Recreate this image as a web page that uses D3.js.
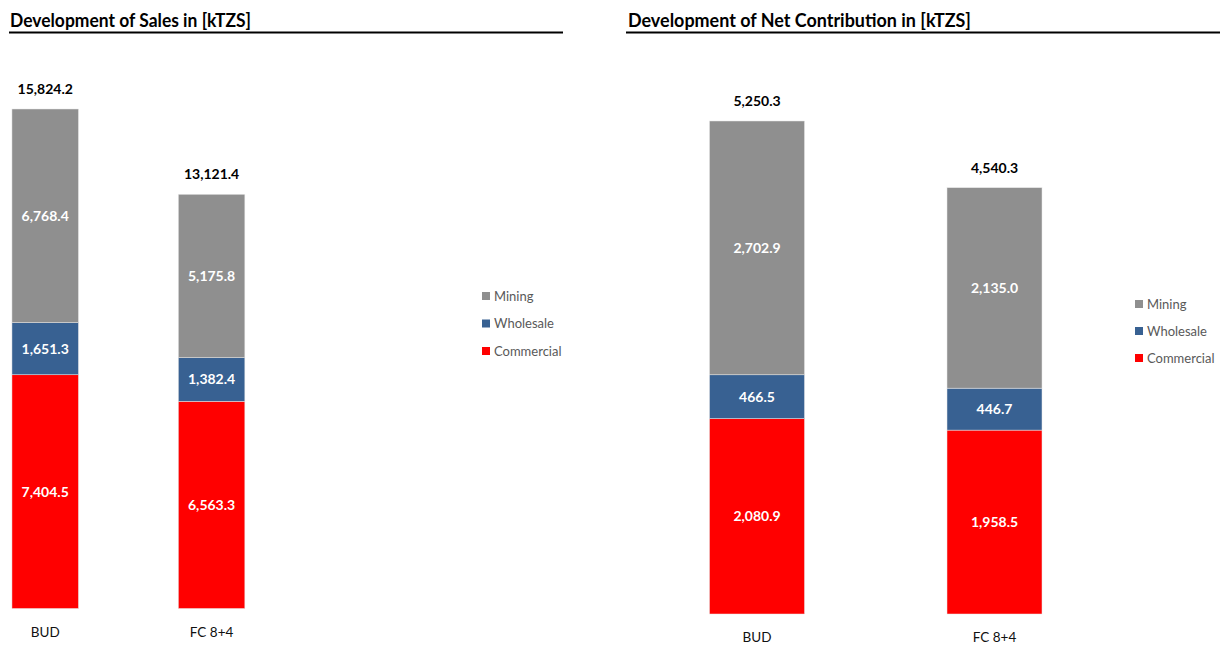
<!DOCTYPE html>
<meta charset="utf-8">
<script src="https://cdn.jsdelivr.net/npm/d3@7"></script>
<style>
body { margin: 0; background: #fff; }
text { font-family: Lato, "Open Sans", sans-serif; }
.title { font-weight: bold; font-size: 18px; fill: #000; }
.total { font-weight: bold; font-size: 14px; fill: #000; }
.seg { font-weight: bold; font-size: 14px; fill: #fff; }
.cat { font-size: 13.5px; fill: #111; }
.legend text { font-size: 13px; fill: #595959; }
</style>
<body>
<script>
var width = 1220, height = 646;

// data
var categories = ["BUD", "FC 8+4"];
var series = ["Commercial", "Wholesale", "Mining"];
var colors = ["#ff0000", "#386192", "#8f8f8f"];

var salesCommercial = [7404.5, 6563.3];
var salesWholesale = [1651.3, 1382.4];
var salesMining = [6768.4, 5175.8];
var salesTotals = [15824.2, 13121.4];

var ncCommercial = [2080.9, 1958.5];
var ncWholesale = [466.5, 446.7];
var ncMining = [2702.9, 2135.0];
var ncTotals = [5250.3, 4540.3];

var fmt = d3.format(",.1f");

var svg = d3.select("body").append("svg")
    .attr("width", width)
    .attr("height", height);

function buildRows(comm, whole, mine) {
  return categories.map(function(c, i) {
    return {cat: c, Commercial: comm[i], Wholesale: whole[i], Mining: mine[i]};
  });
}

function drawChart(opt) {
  var g = svg.append("g");

  g.append("text")
    .attr("class", "title")
    .attr("x", opt.titleX)
    .attr("y", 27)
    .attr("textLength", opt.titleW)
    .attr("lengthAdjust", "spacingAndGlyphs")
    .text(opt.title);

  g.append("line")
    .attr("x1", opt.lineX1).attr("x2", opt.lineX2)
    .attr("y1", 32.5).attr("y2", 32.5)
    .attr("stroke", "#000")
    .attr("stroke-width", 2);

  var x = d3.scalePoint().domain(categories).range(opt.xRange);
  var y = d3.scaleLinear().domain([0, d3.max(opt.totals)]).range(opt.yRange);

  var rows = buildRows(opt.comm, opt.whole, opt.mine);
  var stack = d3.stack().keys(series)(rows);

  var layer = g.selectAll("g.layer")
    .data(stack)
    .enter().append("g")
      .attr("class", "layer")
      .attr("fill", function(d, i) { return colors[i]; });

  layer.selectAll("rect")
    .data(function(d) { return d; })
    .enter().append("rect")
      .attr("x", function(d) { return x(d.data.cat) - opt.barW / 2; })
      .attr("width", opt.barW)
      .attr("y", function(d) { return y(d[1]); })
      .attr("height", function(d) { return y(d[0]) - y(d[1]); })
      .attr("stroke", "#e8e8e8")
      .attr("stroke-width", 0.5);

  layer.selectAll("text")
    .data(function(d) { return d; })
    .enter().append("text")
      .attr("class", "seg")
      .attr("text-anchor", "middle")
      .attr("dy", "0.35em")
      .attr("x", function(d) { return x(d.data.cat); })
      .attr("y", function(d) { return (y(d[0]) + y(d[1])) / 2; })
      .text(function(d) { return fmt(d[1] - d[0]); });

  g.selectAll("text.total")
    .data(categories)
    .enter().append("text")
      .attr("class", "total")
      .attr("text-anchor", "middle")
      .attr("x", function(d) { return x(d); })
      .attr("y", function(d, i) { return y(opt.totals[i]) - 15; })
      .text(function(d, i) { return fmt(opt.totals[i]); });

  g.selectAll("text.cat")
    .data(categories)
    .enter().append("text")
      .attr("class", "cat")
      .attr("text-anchor", "middle")
      .attr("x", function(d) { return x(d); })
      .attr("y", opt.yRange[0] + 28)
      .text(function(d) { return d; });

  var legend = g.append("g").attr("class", "legend");
  var legItems = series.slice().reverse();
  var ly = d3.scalePoint().domain(legItems).range(opt.legY);
  legItems.forEach(function(s) {
    legend.append("rect")
      .attr("x", opt.legX)
      .attr("y", ly(s) - 4)
      .attr("width", 8).attr("height", 8)
      .attr("fill", colors[series.indexOf(s)]);
    legend.append("text")
      .attr("x", opt.legX + 12)
      .attr("y", ly(s))
      .attr("dy", "0.35em")
      .text(s);
  });
}

drawChart({
  title: "Development of Sales in [kTZS]",
  titleX: 10, titleW: 241, lineX1: 9, lineX2: 563,
  xRange: [45.2, 211.6], barW: 66.5,
  yRange: [608.5, 109],
  comm: salesCommercial, whole: salesWholesale, mine: salesMining, totals: salesTotals,
  legX: 482, legY: [296, 351]
});

drawChart({
  title: "Development of Net Contribution in [kTZS]",
  titleX: 628, titleW: 343, lineX1: 626, lineX2: 1220,
  xRange: [757, 994.5], barW: 95,
  yRange: [614, 121],
  comm: ncCommercial, whole: ncWholesale, mine: ncMining, totals: ncTotals,
  legX: 1135, legY: [304, 358]
});
</script>
</body>
